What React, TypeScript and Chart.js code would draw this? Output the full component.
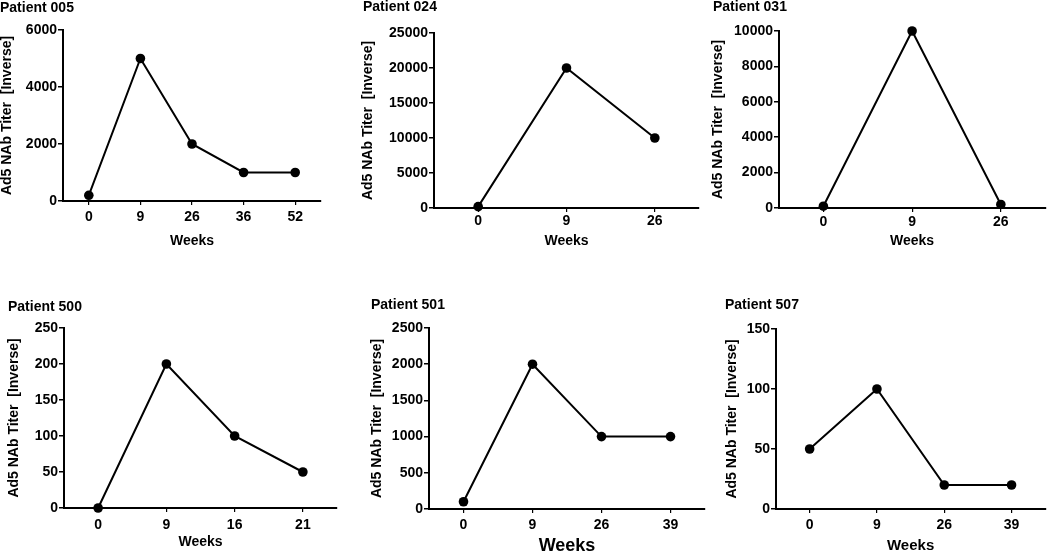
import React, { useEffect, useRef } from 'react';
import { Chart, registerables } from 'chart.js';

Chart.register(...registerables);

const FONT = '"Liberation Sans", Arial, Helvetica, sans-serif';

// ---- Data ----
const weeks005 = ['0', '9', '26', '36', '52'];
const titer005 = [200, 5000, 2000, 1000, 1000];
const yTicks005 = [0, 2000, 4000, 6000];

const weeks024 = ['0', '9', '26'];
const titer024 = [200, 20000, 10000];
const yTicks024 = [0, 5000, 10000, 15000, 20000, 25000];

const weeks031 = ['0', '9', '26'];
const titer031 = [100, 10000, 200];
const yTicks031 = [0, 2000, 4000, 6000, 8000, 10000];

const weeks500 = ['0', '9', '16', '21'];
const titer500 = [0, 200, 100, 50];
const yTicks500 = [0, 50, 100, 150, 200, 250];

const weeks501 = ['0', '9', '26', '39'];
const titer501 = [100, 2000, 1000, 1000];
const yTicks501 = [0, 500, 1000, 1500, 2000, 2500];

const weeks507 = ['0', '9', '26', '39'];
const titer507 = [50, 100, 20, 20];
const yTicks507 = [0, 50, 100, 150];

const patientTitles = ['Patient 005', 'Patient 024', 'Patient 031', 'Patient 500', 'Patient 501', 'Patient 507'];
const xAxisTitle = 'Weeks';
const yAxisTitle = 'Ad5 NAb Titer  [Inverse]';

// ---- Layout (page pixel coordinates) ----
type Box = { x: number; y: number; w: number; h: number };
type Area = { l: number; t: number; r: number; b: number };
type PanelLayout = {
  canvas: Box;
  area: Area;
  title: { x: number; y: number };
  yTitleX: number;
  xLabelY: number;
  xTitleY: number;
  xTitleSize: number;
};

const layouts: PanelLayout[] = [
  { canvas: { x: 0, y: 0, w: 340, h: 253 }, area: { l: 63, t: 30, r: 321, b: 201 }, title: { x: 0, y: 8 }, yTitleX: 7.5, xLabelY: 217, xTitleY: 241, xTitleSize: 14 },
  { canvas: { x: 350, y: 0, w: 355, h: 253 }, area: { l: 434, t: 33, r: 699, b: 208 }, title: { x: 363, y: 7 }, yTitleX: 368, xLabelY: 221.5, xTitleY: 241, xTitleSize: 14 },
  { canvas: { x: 705, y: 0, w: 345, h: 253 }, area: { l: 779, t: 31, r: 1047, b: 208 }, title: { x: 713, y: 7 }, yTitleX: 718.5, xLabelY: 222, xTitleY: 241, xTitleSize: 14 },
  { canvas: { x: 0, y: 290, w: 345, h: 263 }, area: { l: 64, t: 328, r: 337, b: 508 }, title: { x: 8, y: 307 }, yTitleX: 14, xLabelY: 525, xTitleY: 542.5, xTitleSize: 14 },
  { canvas: { x: 350, y: 290, w: 362, h: 263 }, area: { l: 429, t: 328, r: 705, b: 509 }, title: { x: 371, y: 305 }, yTitleX: 377.5, xLabelY: 525, xTitleY: 546.5, xTitleSize: 18 },
  { canvas: { x: 715, y: 290, w: 335, h: 263 }, area: { l: 776, t: 329, r: 1050, b: 509 }, title: { x: 725, y: 305 }, yTitleX: 732.5, xLabelY: 525, xTitleY: 546, xTitleSize: 15 },
];

const panelData = [
  { labels: weeks005, values: titer005, ticks: yTicks005 },
  { labels: weeks024, values: titer024, ticks: yTicks024 },
  { labels: weeks031, values: titer031, ticks: yTicks031 },
  { labels: weeks500, values: titer500, ticks: yTicks500 },
  { labels: weeks501, values: titer501, ticks: yTicks501 },
  { labels: weeks507, values: titer507, ticks: yTicks507 },
];

const panelTitlePlugin = {
  id: 'panelTitle',
  afterDraw(chart: any, _args: any, opts: any) {
    const ctx = chart.ctx;
    ctx.save();
    ctx.font = `bold 14px ${FONT}`;
    ctx.fillStyle = '#000';
    ctx.textAlign = 'left';
    ctx.textBaseline = 'middle';
    ctx.fillText(opts.text, opts.x, opts.y);
    ctx.restore();
  },
};

function makeConfig(index: number): any {
  const p = layouts[index];
  const d = panelData[index];
  const tickFont = { family: FONT, size: 14, weight: 'bold' as const, lineHeight: 1.2 };
  const xTickLen = 4;
  const yTickLen = 5;
  const xTitleHalf = (p.xTitleSize * 1.2) / 2;
  return {
    type: 'line',
    data: {
      labels: d.labels,
      datasets: [
        {
          data: d.values,
          borderColor: '#000',
          backgroundColor: '#000',
          borderWidth: 2,
          pointRadius: 4.8,
          pointBorderWidth: 0,
          pointBackgroundColor: '#000',
          tension: 0,
          fill: false,
          clip: false,
        },
      ],
    },
    options: {
      responsive: false,
      animation: false,
      events: [],
      layout: {
        padding: {
          left: 0,
          top: p.area.t - p.canvas.y,
          right: p.canvas.x + p.canvas.w - p.area.r,
          bottom: 0,
        },
      },
      plugins: {
        legend: { display: false },
        tooltip: { enabled: false },
        title: { display: false },
        panelTitle: {
          text: patientTitles[index],
          x: p.title.x - p.canvas.x,
          y: p.title.y - p.canvas.y,
        },
      },
      scales: {
        x: {
          type: 'category',
          offset: true,
          grid: {
            display: true,
            drawOnChartArea: false,
            drawTicks: true,
            tickLength: xTickLen,
            color: '#000',
            lineWidth: 1.2,
          },
          border: { display: true, color: '#000', width: 2 },
          ticks: {
            color: '#000',
            font: tickFont,
            padding: p.xLabelY - p.area.b - xTickLen - 8.4,
            maxRotation: 0,
            autoSkip: false,
          },
          title: {
            display: true,
            text: xAxisTitle,
            color: '#000',
            font: { family: FONT, size: p.xTitleSize, weight: 'bold', lineHeight: 1.2 },
            padding: { top: 0, bottom: p.canvas.y + p.canvas.h - p.xTitleY - xTitleHalf },
          },
          afterFit: (s: any) => {
            s.height = p.canvas.y + p.canvas.h - p.area.b;
          },
        },
        y: {
          min: d.ticks[0],
          max: d.ticks[d.ticks.length - 1],
          grid: {
            display: true,
            drawOnChartArea: false,
            drawTicks: true,
            tickLength: yTickLen,
            color: '#000',
            lineWidth: 1.5,
          },
          border: { display: true, color: '#000', width: 2 },
          ticks: {
            stepSize: d.ticks[1] - d.ticks[0],
            color: '#000',
            font: tickFont,
            padding: 1,
            callback: (v: any) => String(v),
          },
          title: {
            display: true,
            text: yAxisTitle,
            color: '#000',
            font: { family: FONT, size: 14, weight: 'bold', lineHeight: 1.2 },
            padding: { top: p.yTitleX - p.canvas.x - 8.4, bottom: 0 },
          },
          afterFit: (s: any) => {
            s.width = p.area.l - p.canvas.x;
          },
        },
      },
    },
    plugins: [panelTitlePlugin],
  };
}

function Panel({ index }: { index: number }) {
  const ref = useRef<HTMLCanvasElement | null>(null);
  const p = layouts[index];
  useEffect(() => {
    if (!ref.current) return;
    const chart = new Chart(ref.current, makeConfig(index));
    return () => chart.destroy();
  }, [index]);
  return (
    <canvas
      ref={ref}
      width={p.canvas.w}
      height={p.canvas.h}
      style={{ position: 'absolute', left: p.canvas.x, top: p.canvas.y, width: p.canvas.w, height: p.canvas.h }}
    />
  );
}

export default function App() {
  return (
    <div
      style={{
        position: 'absolute',
        left: 0,
        top: 0,
        width: 1050,
        height: 553,
        background: '#fff',
        overflow: 'hidden',
      }}
    >
      {layouts.map((_, i) => (
        <Panel key={i} index={i} />
      ))}
    </div>
  );
}
